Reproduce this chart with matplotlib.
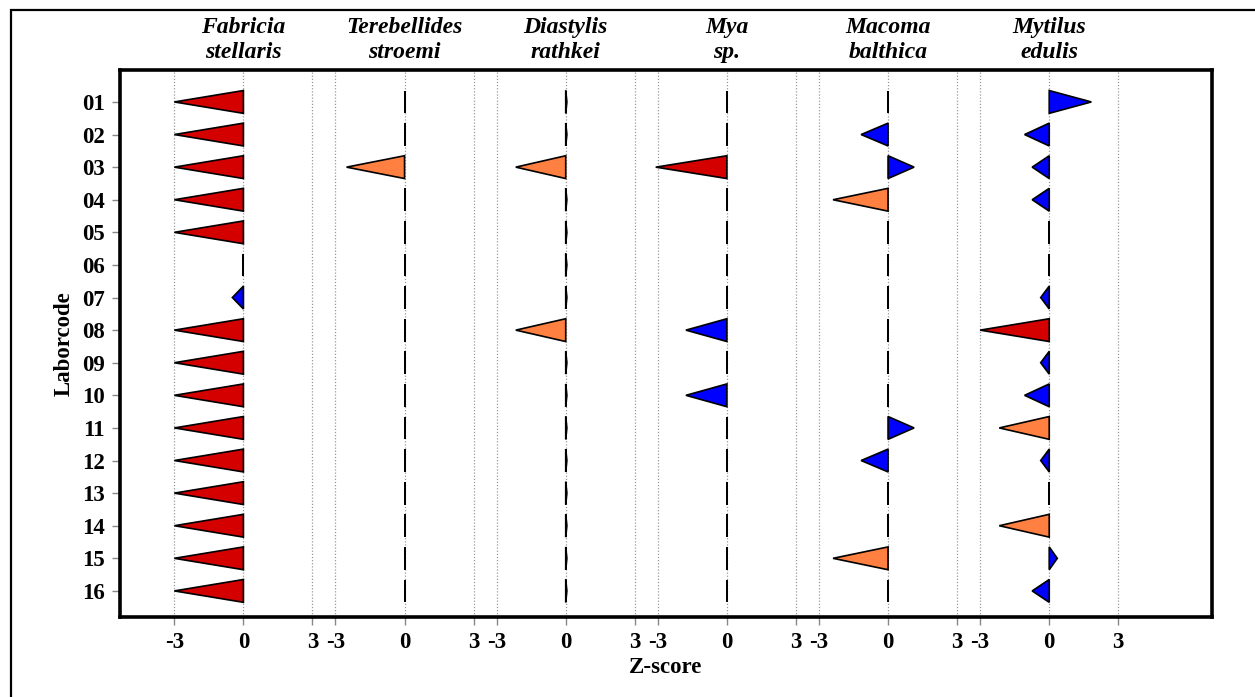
import numpy as np
import matplotlib
matplotlib.use("Agg")
import matplotlib.pyplot as plt
from matplotlib.patches import Polygon, Rectangle

# --- data -------------------------------------------------------------
labcodes = ["01", "02", "03", "04", "05", "06", "07", "08",
            "09", "10", "11", "12", "13", "14", "15", "16"]
species = ["Fabricia\nstellaris", "Terebellides\nstroemi", "Diastylis\nrathkei",
           "Mya\nsp.", "Macoma\nbalthica", "Mytilus\nedulis"]

z_fabricia = [-3, -3, -3, -3, -3, 0, -0.48, -3, -3, -3, -3, -3, -3, -3, -3, -3]
z_terebellides = [0, 0, -2.52, 0, 0, 0, 0, 0, 0, 0, 0, 0, 0, 0, 0, 0]
z_diastylis = [0.05, 0.05, -2.17, 0.05, 0.05, 0.05, 0.05, -2.17,
               0.05, 0.05, 0.05, 0.05, 0.05, 0.05, 0.05, 0.05]
z_mya = [0, 0, -3.09, 0, 0, 0, 0, -1.78, 0, -1.78, 0, 0, 0, 0, 0, 0]
z_macoma = [0, -1.17, 1.13, -2.39, 0, 0, 0, 0, 0, 0, 1.13, -1.17, 0, 0, -2.39, 0]
z_mytilus = [1.83, -1.07, -0.74, -0.74, 0, 0, -0.37, -3.0,
             -0.37, -1.07, -2.17, -0.37, 0, -2.17, 0.35, -0.74]

zscores = [z_fabricia, z_terebellides, z_diastylis, z_mya, z_macoma, z_mytilus]
tick_vals = [-3, 0, 3]

# --- style ------------------------------------------------------------
serif = ["Liberation Serif", "DejaVu Serif"]
plt.rcParams["font.family"] = serif
plt.rcParams["font.weight"] = "bold"
fs = 16.5

def couleur(z):
    if abs(z) >= 2.95:
        return "#d40000"
    if abs(z) >= 2:
        return "#ff8040"
    return "#0000ff"

# --- figure -----------------------------------------------------------
fig = plt.figure(figsize=(12.55, 6.97), dpi=100)
ax = fig.add_axes([120 / 1255, 1 - 617 / 697, (1212 - 120) / 1255, (617 - 70) / 697])

step = 7  # decalage entre panneaux (en unites de z)
half = 0.35  # demi-hauteur des triangles (en lignes)

xticks, xlabels = [], []
for k in range(len(species)):
    off = k * step
    for t in tick_vals:
        xticks.append(off + t)
        xlabels.append(str(t))
        ax.axvline(off + t, color="#9a9a9a", lw=0.9, ls=(0, (1, 1.5)), zorder=1)
    for i, z in enumerate(zscores[k]):
        r = i + 1
        tri = Polygon([(off, r - half), (off, r + half), (off + z, r)],
                      closed=True, facecolor=couleur(z), edgecolor="black",
                      lw=1.2, zorder=3)
        ax.add_patch(tri)
    ax.text(off, -0.18, species[k], ha="center", va="bottom", fontsize=fs + 0.5,
            fontweight="bold", fontstyle="italic", linespacing=1.25,
            transform=ax.transData, clip_on=False)

ax.set_xlim(-5.36, 42.07)
ax.set_ylim(16.8, 0.02)
ax.set_xticks(xticks)
ax.set_xticklabels(xlabels)
ax.set_yticks(np.arange(1, len(labcodes) + 1))
ax.set_yticklabels(labcodes)
ax.tick_params(axis="both", direction="out", length=6, width=1,
               color="#888888", labelsize=fs, pad=5)
for lab in ax.get_xticklabels() + ax.get_yticklabels():
    lab.set_fontweight("bold")
for s in ax.spines.values():
    s.set_linewidth(2.6)
    s.set_color("black")

ax.set_xlabel("Z-score", fontsize=fs, fontweight="bold", labelpad=3)
ax.set_ylabel("Laborcode", fontsize=fs, fontweight="bold", labelpad=5)

# cadre exterieur
fig.patches.append(Rectangle((11 / 1255, -0.05), 1.2, 1 - 10 / 697 + 0.05,
                             transform=fig.transFigure, fill=False,
                             edgecolor="black", lw=1.6))

fig.savefig("out.png", dpi=100)
